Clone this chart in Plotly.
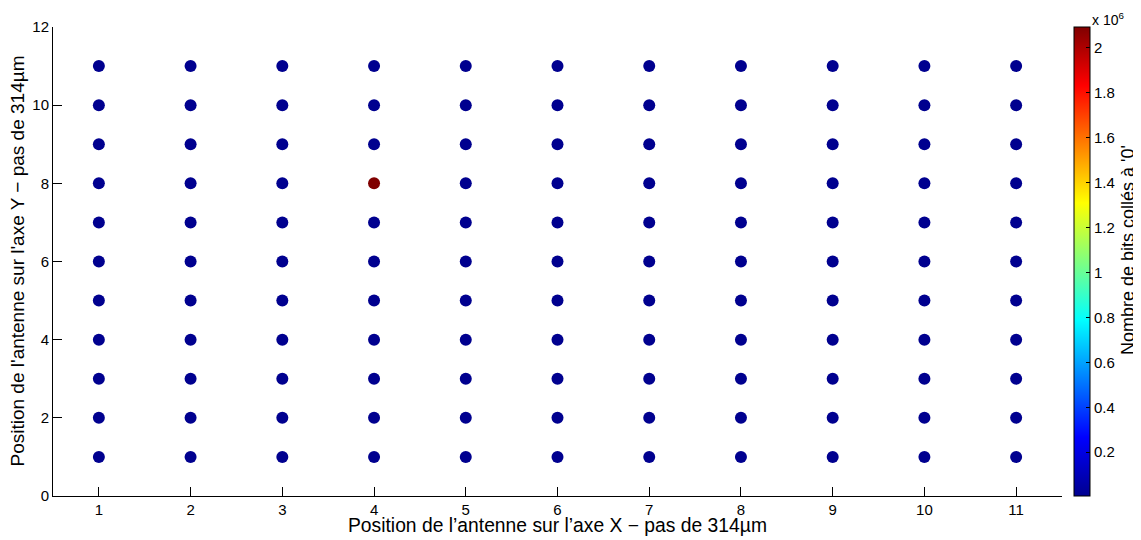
import plotly.graph_objects as go

x_positions = [1, 2, 3, 4, 5, 6, 7, 8, 9, 10, 11]
y_positions = [1, 2, 3, 4, 5, 6, 7, 8, 9, 10, 11]
y_ticks = [0, 2, 4, 6, 8, 10, 12]
base_count = 5000
hot_spot = (4, 8)
hot_count = 2093000

x_title = "Position de l’antenne sur l’axe X − pas de 314µm"
y_title = "Position de l'antenne sur l'axe Y − pas de 314µm"
cb_title = "Nombre de bits collés à '0'"

xs, ys, vals = [], [], []
for xv in x_positions:
    for yv in y_positions:
        xs.append(xv)
        ys.append(yv)
        vals.append(hot_count if (xv, yv) == hot_spot else base_count)

jet = [
    [0.0, "rgb(0,0,143)"],
    [0.125, "rgb(0,0,255)"],
    [0.375, "rgb(0,255,255)"],
    [0.625, "rgb(255,255,0)"],
    [0.875, "rgb(255,0,0)"],
    [1.0, "rgb(128,0,0)"],
]

cb_tickvals = [0.2e6, 0.4e6, 0.6e6, 0.8e6, 1.0e6, 1.2e6, 1.4e6, 1.6e6, 1.8e6, 2.0e6]
cb_ticktext = ["0.2", "0.4", "0.6", "0.8", "1", "1.2", "1.4", "1.6", "1.8", "2"]

font_family = "Liberation Sans, Arial, sans-serif"

fig = go.Figure(
    go.Scatter(
        x=xs,
        y=ys,
        mode="markers",
        marker=dict(
            size=12,
            color=vals,
            colorscale=jet,
            cmin=base_count,
            cmax=hot_count,
            line=dict(width=0),
            colorbar=dict(
                x=1.012,
                xanchor="left",
                xpad=0,
                ypad=0,
                y=0,
                yanchor="bottom",
                len=1,
                lenmode="fraction",
                thickness=16,
                outlinecolor="black",
                outlinewidth=1,
                tickvals=cb_tickvals,
                ticktext=cb_ticktext,
                ticks="inside",
                ticklen=4,
                tickcolor="black",
                tickfont=dict(size=15, color="black", family=font_family),
            ),
        ),
        showlegend=False,
        hoverinfo="x+y",
    )
)

fig.update_layout(
    width=1133,
    height=532,
    margin=dict(l=45, r=79, t=19, b=44),
    plot_bgcolor="white",
    paper_bgcolor="white",
    font=dict(family=font_family, color="black"),
    xaxis=dict(
        range=[0.5, 11.5],
        tickvals=x_positions,
        automargin=False,
        showgrid=False,
        zeroline=False,
        showline=True,
        linecolor="black",
        linewidth=1,
        ticks="inside",
        ticklen=9,
        tickcolor="black",
        tickfont=dict(size=15),
    ),
    yaxis=dict(
        range=[0, 12],
        tickvals=y_ticks,
        automargin=False,
        showgrid=False,
        zeroline=False,
        showline=True,
        linecolor="black",
        linewidth=1,
        ticks="inside",
        ticklen=9,
        tickcolor="black",
        tickfont=dict(size=15),
    ),
    annotations=[
        dict(
            text=x_title,
            xref="paper", yref="paper",
            x=0.5, y=0,
            xanchor="center", yanchor="middle",
            yshift=-29,
            showarrow=False,
            font=dict(size=19.3, color="black"),
        ),
        dict(
            text=y_title,
            xref="paper", yref="paper",
            x=0, y=0.5,
            xanchor="center", yanchor="middle",
            xshift=-36,
            borderpad=0,
            textangle=-90,
            showarrow=False,
            font=dict(size=19, color="black"),
        ),
        dict(
            text="x 10<sup>6</sup>",
            xref="paper", yref="paper",
            x=1.0277, y=1.0,
            xanchor="left", yanchor="bottom",
            yshift=-3,
            showarrow=False,
            font=dict(size=14, color="black"),
        ),
        dict(
            text=cb_title,
            xref="paper", yref="paper",
            x=1.0655, y=0.5245,
            xanchor="center", yanchor="middle",
            textangle=-90,
            showarrow=False,
            font=dict(size=18, color="black"),
        ),
    ],
)

fig.write_html("out.html")
